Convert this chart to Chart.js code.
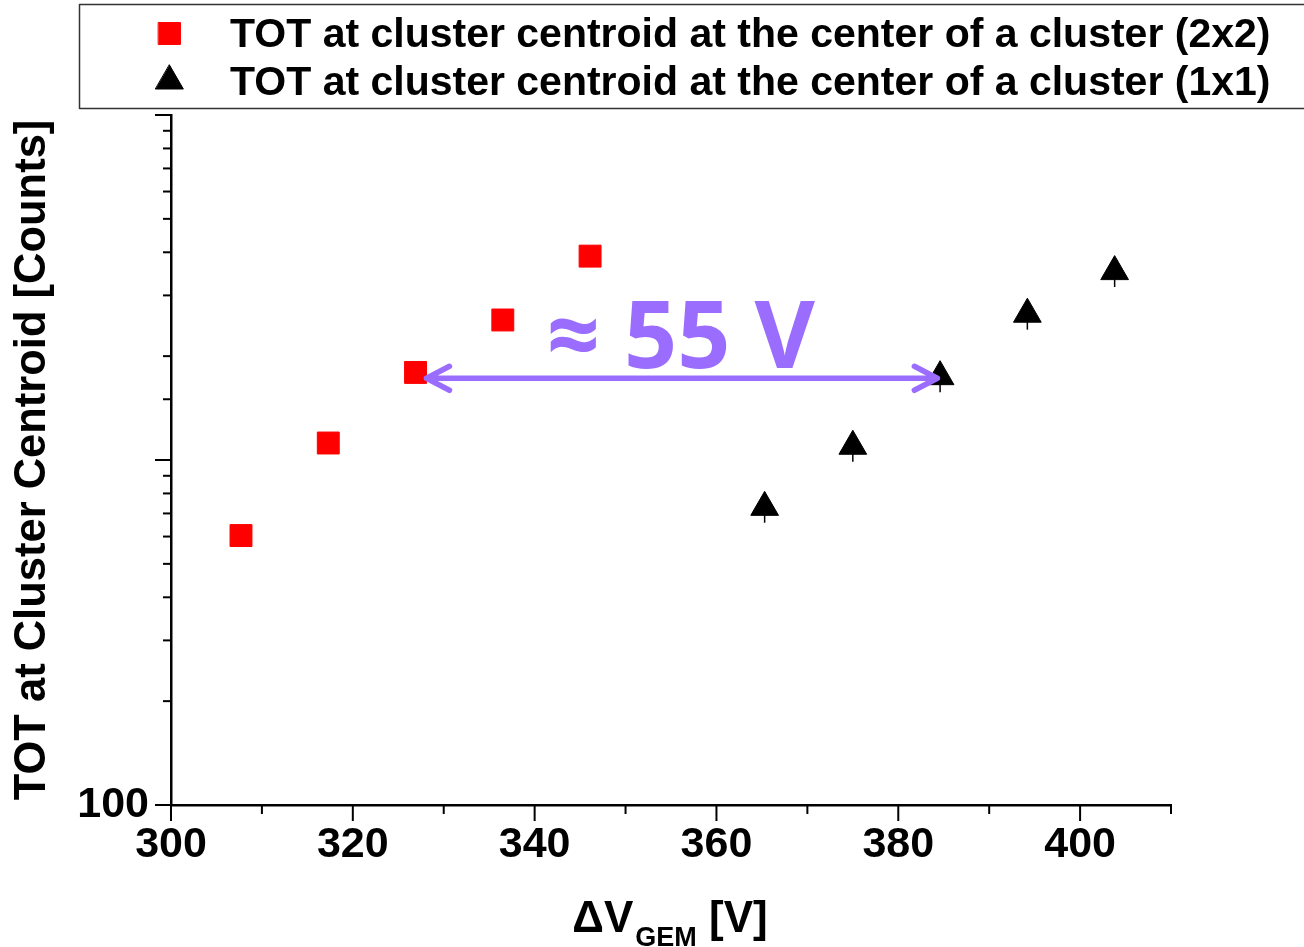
<!DOCTYPE html>
<html>
<head>
<meta charset="utf-8">
<script src="https://cdn.jsdelivr.net/npm/chart.js@4.4.0/dist/chart.umd.min.js"></script>
<style>
  html, body { margin: 0; padding: 0; background: #fff; }
  #wrap { width: 1304px; height: 947px; }
</style>
</head>
<body>
<div id="wrap"><canvas id="totChart" width="1304" height="947"></canvas></div>
<script>
// values
const vGem2x2 = [307.7, 317.3, 326.9, 336.5, 346.1];
const tot2x2 = [604, 1120, 1794, 2546, 3899];
const vGem1x1 = [365.3, 375.0, 384.6, 394.2, 403.8];
const tot1x1 = [729, 1096, 1744, 2646, 3516];
const tot1x1Low = [658, 989, 1573, 2387, 3172];   // lower end of the error bars

const legendLabels = [
    "TOT at cluster centroid at the center of a cluster (2x2)",
    "TOT at cluster centroid at the center of a cluster (1x1)"
];
const xTickLabels = [300, 320, 340, 360, 380, 400];
const yTickLabels = [100];

// "≈ 55 V" arrow between the two series
const arrowV = [328.1, 384.3];
const arrowTot = 1725;
const arrowText = "\u2248 55 V";

const NARROW = '"Liberation Sans Narrow", "Arial Narrow", "Liberation Sans", Arial, sans-serif';
const SANS = '"Liberation Sans", Arial, sans-serif';
const PURPLE = "#9b6dff";

const extras = {
    id: "extras",
    afterDraw(chart) {
        const ctx = chart.ctx;
        const xs = chart.scales.x, ys = chart.scales.y;
        ctx.save();

        // tick marks (long majors, short minors)
        ctx.strokeStyle = "#000";
        ctx.lineWidth = 2;
        xs.ticks.forEach(t => {
            const px = xs.getPixelForValue(t.value);
            const len = xTickLabels.includes(t.value) ? 16 : 9;
            ctx.beginPath();
            ctx.moveTo(px, xs.top);
            ctx.lineTo(px, xs.top + len);
            ctx.stroke();
        });
        ys.ticks.forEach(t => {
            const py = ys.getPixelForValue(t.value);
            const lg = Math.log10(t.value);
            const len = Math.abs(lg - Math.round(lg)) < 1e-6 ? 16 : 8;
            ctx.beginPath();
            ctx.moveTo(ys.right, py);
            ctx.lineTo(ys.right - len, py);
            ctx.stroke();
        });

        // error bar stubs under the triangles
        ctx.lineWidth = 1.5;
        vGem1x1.forEach((v, i) => {
            const px = xs.getPixelForValue(v);
            ctx.beginPath();
            ctx.moveTo(px, ys.getPixelForValue(tot1x1[i]));
            ctx.lineTo(px, ys.getPixelForValue(tot1x1Low[i]));
            ctx.stroke();
        });

        // double arrow
        const ax1 = xs.getPixelForValue(arrowV[0]);
        const ax2 = xs.getPixelForValue(arrowV[1]);
        const ay = ys.getPixelForValue(arrowTot);
        ctx.strokeStyle = PURPLE;
        ctx.lineWidth = 5.5;
        ctx.lineCap = "round";
        ctx.lineJoin = "round";
        ctx.beginPath();
        ctx.moveTo(ax1, ay);
        ctx.lineTo(ax2, ay);
        ctx.moveTo(ax1 + 23, ay - 12);
        ctx.lineTo(ax1, ay);
        ctx.lineTo(ax1 + 23, ay + 12);
        ctx.moveTo(ax2 - 23, ay - 12);
        ctx.lineTo(ax2, ay);
        ctx.lineTo(ax2 - 23, ay + 12);
        ctx.stroke();

        ctx.fillStyle = PURPLE;
        ctx.font = 'bold 93px "Open Sans", sans-serif';
        ctx.textAlign = "center";
        ctx.textBaseline = "alphabetic";
        ctx.fillText(arrowText, (ax1 + ax2) / 2 - 1, ay - 10);

        // legend box
        ctx.strokeStyle = "#333";
        ctx.lineWidth = 1.5;
        ctx.strokeRect(79.5, 4.5, 1300, 104);
        const styles = ["rect", "triangle"];
        const colors = ["#ff0000", "#000000"];
        const rowY = [33.5, 81];
        legendLabels.forEach((lab, i) => {
            ctx.fillStyle = colors[i];
            ctx.strokeStyle = colors[i];
            ctx.lineWidth = 1;
            Chart.helpers.drawPoint(ctx, { pointStyle: styles[i], radius: i ? 16 : 15.5, borderWidth: 1 }, 169.5, rowY[i]);
            ctx.fillStyle = "#000";
            ctx.font = "bold 41px " + SANS;
            ctx.textAlign = "left";
            ctx.textBaseline = "alphabetic";
            ctx.fillText(lab, 230, i ? 95 : 47);
        });

        // x title with subscript
        const base = 932;
        const bigFont = "bold 44px " + NARROW;
        const subFont = "bold 27px " + NARROW;
        ctx.font = bigFont;
        const w1 = ctx.measureText("\u0394V").width;
        const w3 = ctx.measureText(" [V]").width;
        ctx.font = subFont;
        const w2 = ctx.measureText("GEM").width;
        const tx = (xs.left + xs.right) / 2 - (w1 + w2 + w3) / 2 - 2;
        ctx.fillStyle = "#000";
        ctx.textAlign = "left";
        ctx.font = bigFont;
        ctx.fillText("\u0394V", tx, base);
        ctx.font = subFont;
        ctx.fillText("GEM", tx + w1 + 2, base + 14);
        ctx.font = bigFont;
        ctx.fillText(" [V]", tx + w1 + w2 + 2, base);

        ctx.restore();
    }
};

new Chart(document.getElementById("totChart").getContext("2d"), {
    type: "scatter",
    data: {
        datasets: [{
            label: legendLabels[0],
            data: vGem2x2.map((v, i) => ({ x: v, y: tot2x2[i] })),
            pointStyle: "rect",
            pointRadius: 15.5,
            backgroundColor: "#ff0000",
            borderColor: "#ff0000",
            borderWidth: 1
        }, {
            label: legendLabels[1],
            data: vGem1x1.map((v, i) => ({ x: v, y: tot1x1[i] })),
            pointStyle: "triangle",
            pointRadius: 16,
            backgroundColor: "#000000",
            borderColor: "#000000",
            borderWidth: 1
        }]
    },
    options: {
        responsive: false,
        animation: false,
        events: [],
        layout: { padding: { top: 115, right: 133, left: 0, bottom: 0 } },
        plugins: { legend: { display: false }, tooltip: { enabled: false } },
        scales: {
            x: {
                type: "linear",
                min: 300,
                max: 410,
                afterFit: s => { s.height = 142; },
                grid: { display: true, drawOnChartArea: false, drawTicks: false },
                border: { color: "#000", width: 2.5 },
                ticks: {
                    stepSize: 10,
                    autoSkip: false,
                    maxRotation: 0,
                    padding: 14,
                    color: "#000",
                    font: { family: NARROW, size: 43, weight: "bold" },
                    callback: v => xTickLabels.includes(v) ? String(v) : ""
                }
            },
            y: {
                type: "logarithmic",
                min: 100,
                max: 10000,
                afterFit: s => { s.width = 171; },
                grid: { display: true, drawOnChartArea: false, drawTicks: false },
                border: { color: "#000", width: 2.5 },
                ticks: {
                    autoSkip: false,
                    padding: 22,
                    color: "#000",
                    font: { family: NARROW, size: 43, weight: "bold" },
                    callback: v => yTickLabels.includes(v) ? String(v) : ""
                },
                title: {
                    display: true,
                    text: "TOT at Cluster Centroid [Counts]",
                    color: "#000",
                    font: { family: SANS, size: 43.5, weight: "bold" },
                    padding: { top: 7, bottom: 0 }
                }
            }
        }
    },
    plugins: [extras]
});
</script>
</body>
</html>
